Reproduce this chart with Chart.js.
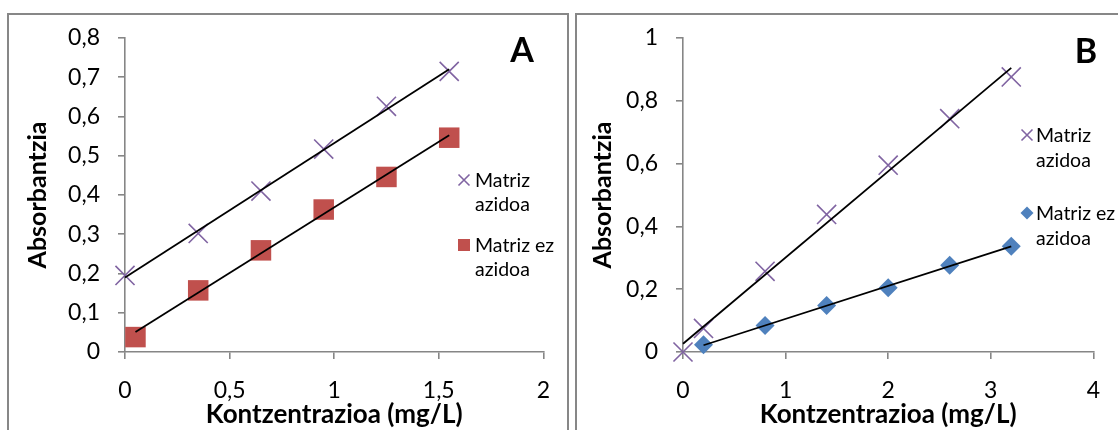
<!DOCTYPE html>
<html><head><meta charset="utf-8">
<script src="https://cdn.jsdelivr.net/npm/chart.js@4.4.1/dist/chart.umd.min.js"></script>
<style>
html,body{margin:0;padding:0;width:1118px;height:430px;overflow:hidden;background:#fff;}
.panel{position:absolute;border:2px solid #878787;box-sizing:border-box;}
#pa{left:7px;top:13px;width:562px;height:450px;}
#pb{left:575px;top:13px;width:600px;height:450px;}
canvas{position:absolute;top:0;}
#ca{left:0;}
#cb{left:577px;}
</style></head><body>
<div class="panel" id="pa"></div><div class="panel" id="pb"></div>
<canvas id="ca" width="568" height="430"></canvas>
<canvas id="cb" width="541" height="430"></canvas>
<script>
// ---- Data ----
const seriesNames = ['Matriz azidoa', 'Matriz ez azidoa'];

// Panel A
const xA_azidoa   = [0, 0.35, 0.65, 0.95, 1.25, 1.55];
const yA_azidoa   = [0.195, 0.302, 0.410, 0.517, 0.626, 0.715];
const xA_ezAzidoa = [0.05, 0.35, 0.65, 0.95, 1.25, 1.55];
const yA_ezAzidoa = [0.038, 0.157, 0.259, 0.363, 0.446, 0.546];

// Panel B
const xB_azidoa   = [0, 0.2, 0.8, 1.4, 2.0, 2.6, 3.2];
const yB_azidoa   = [0, 0.075, 0.257, 0.438, 0.595, 0.743, 0.876];
const xB_ezAzidoa = [0.2, 0.8, 1.4, 2.0, 2.6, 3.2];
const yB_ezAzidoa = [0.023, 0.084, 0.148, 0.205, 0.276, 0.337];

// Tick values
const xTicksA = [0, 0.5, 1, 1.5, 2];
const yTicksA = [0, 0.1, 0.2, 0.3, 0.4, 0.5, 0.6, 0.7, 0.8];
const xTicksB = [0, 1, 2, 3, 4];
const yTicksB = [0, 0.2, 0.4, 0.6, 0.8, 1];

const xTitle = 'Kontzentrazioa (mg/L)';
const yTitle = 'Absorbantzia';

// ---- helpers ----
const FONT = "Lato, Carlito, 'Liberation Sans', sans-serif";
const PURPLE = '#8064A2', RED = '#C0504D', BLUE = '#4F81BD', GRAY = '#868686';

function pts(xs, ys){ return xs.map((x,i)=>({x:x, y:ys[i]})); }
function trend(xs, ys){
  const n = xs.length;
  const mx = xs.reduce((a,b)=>a+b,0)/n, my = ys.reduce((a,b)=>a+b,0)/n;
  let sxy=0, sxx=0;
  for(let i=0;i<n;i++){ sxy+=(xs[i]-mx)*(ys[i]-my); sxx+=(xs[i]-mx)*(xs[i]-mx); }
  const b = sxy/sxx, a = my - b*mx;
  const x0 = Math.min(...xs), x1 = Math.max(...xs);
  return [{x:x0, y:a+b*x0}, {x:x1, y:a+b*x1}];
}
const fmt = v => String(+v.toFixed(2)).replace('.', ',');

const legendPlugin = {
  id: 'customLegend',
  afterDraw(chart, args, opts){
    const ctx = chart.ctx;
    ctx.save();
    ctx.font = "bold 34px " + FONT;
    ctx.fillStyle = '#000';
    ctx.textAlign = 'center';
    ctx.textBaseline = 'middle';
    ctx.fillText(opts.letter, opts.letterX, opts.letterY);
    ctx.textAlign = 'left';
    ctx.textBaseline = 'alphabetic';
    ctx.font = "19.5px " + FONT;
    opts.items.forEach(it => {
      const my = it.baseline - 7, mx = opts.markerX;
      ctx.fillStyle = it.color; ctx.strokeStyle = it.color;
      if (it.shape === 'cross') {
        ctx.lineWidth = 1.6;
        ctx.beginPath();
        ctx.moveTo(mx-5.5, my-5.5); ctx.lineTo(mx+5.5, my+5.5);
        ctx.moveTo(mx+5.5, my-5.5); ctx.lineTo(mx-5.5, my+5.5);
        ctx.stroke();
      } else if (it.shape === 'square') {
        ctx.fillRect(mx-6, my-6, 12, 12);
      } else {
        ctx.beginPath();
        ctx.moveTo(mx, my-6.5); ctx.lineTo(mx+6.5, my); ctx.lineTo(mx, my+6.5); ctx.lineTo(mx-6.5, my);
        ctx.closePath(); ctx.fill();
      }
      ctx.fillStyle = '#000';
      it.lines.forEach((t, k) => ctx.fillText(t, opts.textX, it.baseline + k*opts.lineGap));
    });
    ctx.restore();
  }
};

function makeChart(id, cfg){
  const markerDs = [
    { label: seriesNames[0], data: pts(cfg.xs1, cfg.ys1), pointStyle: 'crossRot',
      pointRadius: 13.5, borderColor: PURPLE, backgroundColor: PURPLE,
      pointBorderWidth: 1.6, showLine: false, clip: false, order: 1 },
    { label: seriesNames[1], data: pts(cfg.xs2, cfg.ys2), pointStyle: cfg.shape2,
      pointRadius: cfg.r2, borderColor: cfg.color2, backgroundColor: cfg.color2,
      pointBorderWidth: 0, showLine: false, clip: false, order: 2 },
    { label: 't1', data: trend(cfg.xs1, cfg.ys1), showLine: true, pointRadius: 0,
      borderColor: '#000', borderWidth: 1.8, clip: false, order: 0 },
    { label: 't2', data: trend(cfg.xs2, cfg.ys2), showLine: true, pointRadius: 0,
      borderColor: '#000', borderWidth: 1.8, clip: false, order: 0 }
  ];
  const axisCommon = (ticks, min, max) => ({
    type: 'linear', min: min, max: max,
    afterBuildTicks: s => { s.ticks = ticks.map(v => ({value: v})); },
    border: { display: true, color: GRAY, width: 1.6 },
    grid: { drawOnChartArea: false, drawTicks: true, tickLength: 7, color: GRAY, lineWidth: 1.6 },
  });
  return new Chart(document.getElementById(id), {
    type: 'scatter',
    data: { datasets: markerDs },
    plugins: [legendPlugin],
    options: {
      responsive: false, animation: false, devicePixelRatio: 1,
      layout: { padding: { top: 38, right: cfg.padRight, bottom: 0, left: 0 } },
      plugins: {
        legend: { display: false }, tooltip: { enabled: false },
        customLegend: cfg.legend
      },
      scales: {
        x: Object.assign(axisCommon(cfg.xTicks, cfg.xTicks[0], cfg.xTicks[cfg.xTicks.length-1]), {
          afterFit: s => { s.height = 78; },
          ticks: { color: '#000', font: { family: FONT, size: 23 }, padding: 18, callback: v => fmt(v) },
          title: { display: true, text: xTitle, color: '#000', font: { family: FONT, size: 26, weight: 'bold' },
                   padding: { top: 0, bottom: 0 } }
        }),
        y: Object.assign(axisCommon(cfg.yTicks, cfg.yTicks[0], cfg.yTicks[cfg.yTicks.length-1]), {
          afterFit: s => { s.width = cfg.yWidth; },
          ticks: { color: '#000', font: { family: FONT, size: 23 }, padding: 18, callback: v => fmt(v) },
          title: { display: true, text: yTitle, color: '#000', font: { family: FONT, size: 25, weight: 'bold' },
                   padding: { top: cfg.yTitlePad, bottom: 0 } }
        })
      }
    }
  });
}

makeChart('ca', {
  xs1: xA_azidoa, ys1: yA_azidoa, xs2: xA_ezAzidoa, ys2: yA_ezAzidoa,
  shape2: 'rect', r2: 14.5, color2: RED,
  xTicks: xTicksA, yTicks: yTicksA, yWidth: 125, padRight: 22, yTitlePad: 23,
  legend: { letter: 'A', letterX: 522, letterY: 51, markerX: 464, textX: 475, lineGap: 24,
    items: [ { shape: 'cross', color: PURPLE, baseline: 187, lines: ['Matriz', 'azidoa'] },
             { shape: 'square', color: RED, baseline: 252, lines: ['Matriz ez', 'azidoa'] } ] }
});

makeChart('cb', {
  xs1: xB_azidoa, ys1: yB_azidoa, xs2: xB_ezAzidoa, ys2: yB_ezAzidoa,
  shape2: 'rectRot', r2: 9.5, color2: BLUE,
  xTicks: xTicksB, yTicks: yTicksB, yWidth: 106, padRight: 8, yTitlePad: 11,
  legend: { letter: 'B', letterX: 509, letterY: 52, markerX: 450, textX: 459, lineGap: 25,
    items: [ { shape: 'cross', color: PURPLE, baseline: 142, lines: ['Matriz', 'azidoa'] },
             { shape: 'diamond', color: BLUE, baseline: 220, lines: ['Matriz ez', 'azidoa'] } ] }
});
</script>
</body></html>
